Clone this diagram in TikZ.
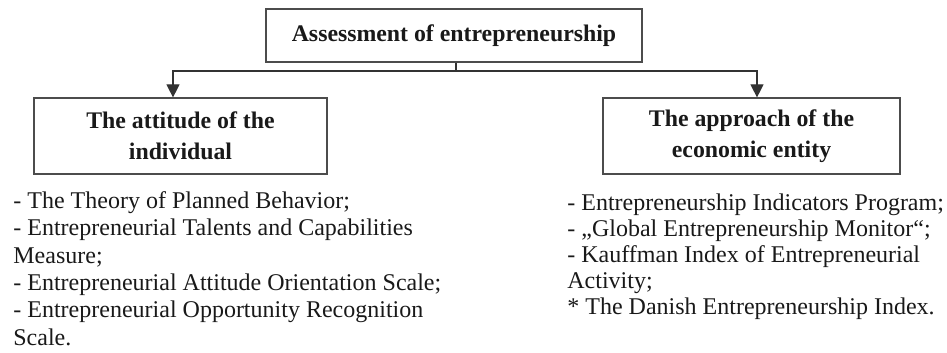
\documentclass[tikz,border=0pt]{standalone}
\usepackage{fontspec}
\setmainfont{Liberation Serif}
\usetikzlibrary{arrows.meta}
\begin{document}
\begin{tikzpicture}[x=0.5pt,y=-0.5pt,
  box/.style={draw=black!70, line width=0.6pt, inner sep=0pt, align=center,
    text=black!90, font=\fontsize{11.9}{15.5}\selectfont\bfseries},
  listtext/.style={inner sep=0pt, align=left, anchor=north west,
    text=black!90, font=\fontsize{12}{13.7}\selectfont},
  conn/.style={draw=black!80, line width=0.6pt},
  arr/.style={conn, -{Triangle[width=6.5pt,length=6.5pt]}}]
\useasboundingbox (0,0) rectangle (947,353);
\node[box, minimum width=188pt, minimum height=26.5pt] (top) at (454,35.5) {Assessment of entrepreneurship};
\node[box, minimum width=146.5pt, minimum height=38pt] (left) at (180.5,136) {The attitude of the\\individual};
\node[box, minimum width=148.5pt, minimum height=38pt] (right) at (751.5,136) {The approach of the\\economic entity};
\coordinate (j) at (456,71);
\draw[conn] (top.south -| j) -- (j);
\draw[arr] (j) -| ([xshift=-3.75pt]left.north);
\draw[arr] (j) -| ([xshift=2.75pt]right.north);
\node[listtext] (llist) at (13,191) {- The Theory of Planned Behavior;\\
- Entrepreneurial Talents and Capabilities\\
Measure;\\
- Entrepreneurial Attitude Orientation Scale;\\
- Entrepreneurial Opportunity Recognition\\
Scale.};
\node[listtext, font=\fontsize{12}{13}\selectfont] (rlist) at (567,193) {- Entrepreneurship Indicators Program;\\
- „Global Entrepreneurship Monitor“;\\
- Kauffman Index of Entrepreneurial\\
Activity;\\
* The Danish Entrepreneurship Index.};
\end{tikzpicture}
\end{document}
